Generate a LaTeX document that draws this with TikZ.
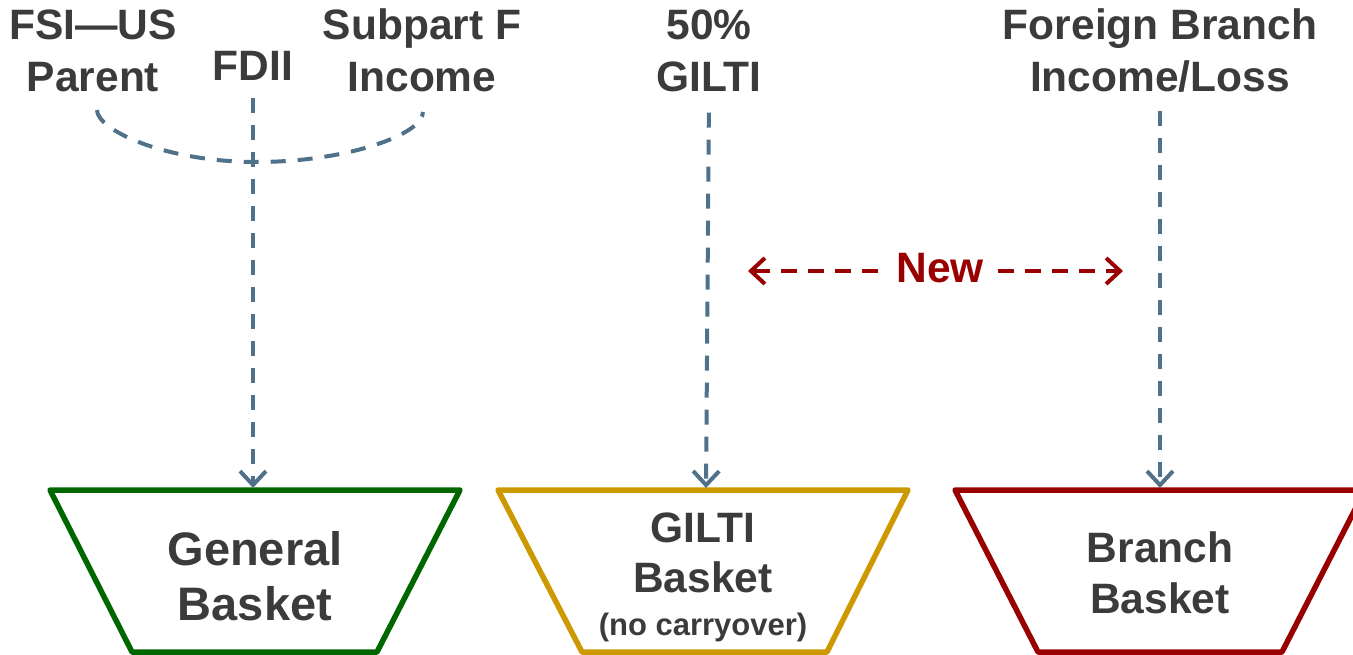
\documentclass[tikz,border=0pt]{standalone}
\usepackage{fontspec}
\setmainfont{Liberation Sans}
\usetikzlibrary{arrows.meta}
\definecolor{txt}{HTML}{3B3B3B}
\definecolor{flow}{HTML}{4F7189}
\definecolor{genc}{HTML}{006600}
\definecolor{gilc}{HTML}{CC9900}
\definecolor{brnc}{HTML}{990000}
\tikzset{
  lbl/.style={font=\fontsize{42.5}{52}\selectfont\bfseries, text=txt, align=center, inner sep=0pt, anchor=base},
  basket/.style={line width=5.5pt, line join=round},
  barb/.style={-{Straight Barb[length=14pt,width=26pt]}},
  flowline/.style={draw=flow, line width=4pt, dash pattern=on 15pt off 12pt, barb},
  arcline/.style={draw=flow, line width=4pt, dash pattern=on 15pt off 12pt},
  newline/.style={draw=brnc, line width=4pt, dash pattern=on 16pt off 11pt, barb},
}
\begin{document}
\begin{tikzpicture}[x=1pt,y=-1pt]
\useasboundingbox (0,0) rectangle (1353,655);

% income sources (anchored at the baseline of the last line)
\node[lbl] (fsi)  at (93,92)   {FSI—US\\Parent};
\node[lbl] (fdii) at (253,81)  {FDII};
\node[lbl] (subf) at (422,92)  {Subpart F\\Income};
\node[lbl] (gilti) at (709,92) {50\%\\GILTI};
\node[lbl] (fbi) at (1160,92)  {Foreign Branch\\Income/Loss};

% baskets
\draw[basket, genc] (50,490) -- (460,490) -- (377,652) -- (132,652) -- cycle;
\draw[basket, gilc] (498,490) -- (908,490) -- (827,652) -- (582,652) -- cycle;
\draw[basket, brnc] (955,490) -- (1365,490) -- (1282,652) -- (1038,652) -- cycle;
\coordinate (gentop) at (253,490);
\coordinate (giltop) at (706,490);
\coordinate (brntop) at (1160,490);

\node[lbl, font=\fontsize{47}{55}\selectfont\bfseries] (gentxt) at (255,620) {General\\Basket};
\node[lbl, font=\fontsize{42.5}{50}\selectfont\bfseries] (giltxt) at (703,635)
  {GILTI\\Basket\\[-7pt]{\fontsize{31}{36}\selectfont(no carryover)}};
\node[lbl, font=\fontsize{42.5}{51}\selectfont\bfseries] (brntxt) at (1160,613) {Branch\\Basket};

% flows into the baskets
\coordinate (arcL) at (97,110);
\coordinate (arcM) at (257,162);
\coordinate (arcR) at (423,112);
\draw[arcline] (arcL) .. controls (97,130) and (165,162) .. (arcM)
                      .. controls (345,162) and (423,135) .. (arcR);
\draw[flowline, shorten <=17pt, shorten >=2pt] (fdii.south) -- (gentop);
\draw[flowline, shorten <=20pt, shorten >=2pt] (gilti.south) -- (giltop);
\draw[flowline, shorten <=18pt, shorten >=2pt] (fbi.south) -- (brntop);

% new basket marker
\node[lbl, text=brnc] (new) at (940,283) {New};
\coordinate (newL) at (748,271);
\coordinate (newR) at (1123,271);
\draw[newline, shorten <=18pt] (new.west |- newL) -- (newL);
\draw[newline, shorten <=14pt] (new.east |- newR) -- (newR);
\end{tikzpicture}
\end{document}
